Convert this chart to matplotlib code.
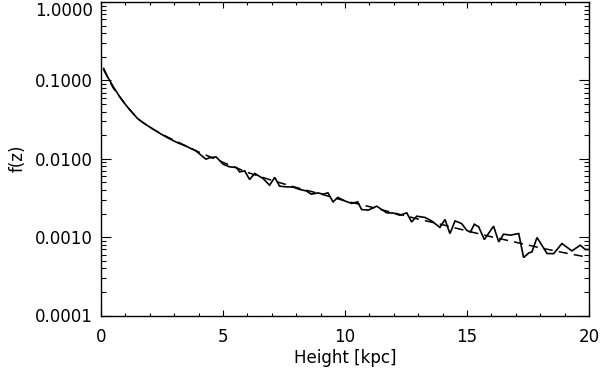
import matplotlib
matplotlib.use("Agg")
import matplotlib.pyplot as plt
from matplotlib.ticker import LogLocator, FixedLocator, NullFormatter

# Measured profile (solid)
z_data = [0.11, 0.27, 0.41, 0.545, 0.75, 1.02, 1.23, 1.50, 1.77, 2.05, 2.39, 2.73, 3.14, 3.48,
          3.89, 4.10, 4.30, 4.44, 4.71, 4.92, 5.00, 5.27, 5.55, 5.68, 5.89, 6.09, 6.30, 6.64,
          6.91, 7.12, 7.32, 7.59, 7.87, 8.14, 8.41, 8.62, 8.89, 9.10, 9.30, 9.51, 9.71, 9.99,
          10.27, 10.52, 10.68, 10.95, 11.30, 11.71, 11.98, 12.25, 12.53, 12.73, 12.94, 13.28,
          13.55, 13.89, 14.10, 14.30, 14.51, 14.78, 14.99, 15.14, 15.30, 15.48, 15.71, 16.09,
          16.30, 16.50, 16.77, 17.12, 17.32, 17.53, 17.66, 17.87, 18.28, 18.55, 18.89, 19.30,
          19.64, 19.85, 19.99]
f_data = [0.142, 0.111, 0.0932, 0.0791, 0.0630, 0.0484, 0.0405, 0.0325, 0.0282, 0.0248, 0.0213,
          0.0185, 0.0160, 0.0145, 0.0126, 0.0111, 0.00989, 0.01026, 0.01057, 0.00913, 0.00853,
          0.00788, 0.00774, 0.00680, 0.00700, 0.00544, 0.00649, 0.00560, 0.00460, 0.00577,
          0.00447, 0.00438, 0.00435, 0.00406, 0.00389, 0.00353, 0.00367, 0.00353, 0.00367,
          0.00282, 0.00321, 0.00290, 0.00269, 0.00282, 0.00225, 0.00221, 0.00248, 0.00204,
          0.00203, 0.00190, 0.00204, 0.00156, 0.00185, 0.00178, 0.00161, 0.00133, 0.00168,
          0.00111, 0.00161, 0.00149, 0.00122, 0.00116, 0.00146, 0.00135, 0.000931, 0.00138,
          0.000869, 0.00109, 0.00106, 0.00111, 0.000549, 0.000628, 0.000647, 0.000989,
          0.000618, 0.000615, 0.000828, 0.000667, 0.000788, 0.000695, 0.000695]

# Fit (dashed)
z_fit = [0.1, 0.5, 1, 1.5, 2, 2.5, 3, 4, 5, 6, 7, 8, 9, 10, 11, 12, 13, 14, 15, 16, 17, 18, 19, 20]
f_fit = [0.138, 0.080, 0.049, 0.0325, 0.0252, 0.0205, 0.0172, 0.0122, 0.0090, 0.0067, 0.0053,
         0.0043, 0.00355, 0.0029, 0.00245, 0.00204, 0.0017, 0.00144, 0.0012, 0.00101, 0.00086,
         0.00073, 0.00063, 0.00055]

y_ticks = [1e-4, 1e-3, 1e-2, 1e-1, 1.0]
y_ticklabels = ["0.0001", "0.0010", "0.0100", "0.1000", "1.0000"]
x_ticks = [0, 5, 10, 15, 20]

fig = plt.figure(figsize=(6.0, 3.71), dpi=100)
ax = fig.add_axes([101/600, 1-315.5/371, (589-101)/600, (315.5-2)/371])

ax.plot(z_data, f_data, color="black", lw=1.2, solid_joinstyle="miter")
ax.plot(z_fit, f_fit, color="black", lw=1.1, dashes=(6, 4))

ax.set_yscale("log")
ax.set_xlim(0, 20)
ax.set_ylim(1e-4, 1.0)

ax.yaxis.set_major_locator(FixedLocator(y_ticks))
ax.set_yticklabels(y_ticklabels)
ax.yaxis.set_minor_locator(LogLocator(base=10, subs=range(2, 10)))
ax.yaxis.set_minor_formatter(NullFormatter())
ax.xaxis.set_major_locator(FixedLocator(x_ticks))
ax.set_xticklabels([str(v) for v in x_ticks])
ax.xaxis.set_minor_locator(FixedLocator(list(range(0, 21))))

ax.tick_params(axis="both", which="both", direction="in", top=True, right=True,
               color="black", width=0.8)
ax.tick_params(axis="x", which="major", length=4.5, pad=9, labelsize=12)
ax.tick_params(axis="x", which="minor", length=2.3)
ax.tick_params(axis="y", which="major", length=7, pad=6, labelsize=12)
ax.tick_params(axis="y", which="minor", length=3.5)
for s in ax.spines.values():
    s.set_linewidth(1.0)

# keep the top label inside the figure
ax.get_yticklabels()[-1].set_verticalalignment("top")

ax.set_xlabel("Height [kpc]", fontsize=12, labelpad=2)
ax.set_ylabel("f(z)", fontsize=12, labelpad=6)

fig.savefig("out.png", dpi=100)
